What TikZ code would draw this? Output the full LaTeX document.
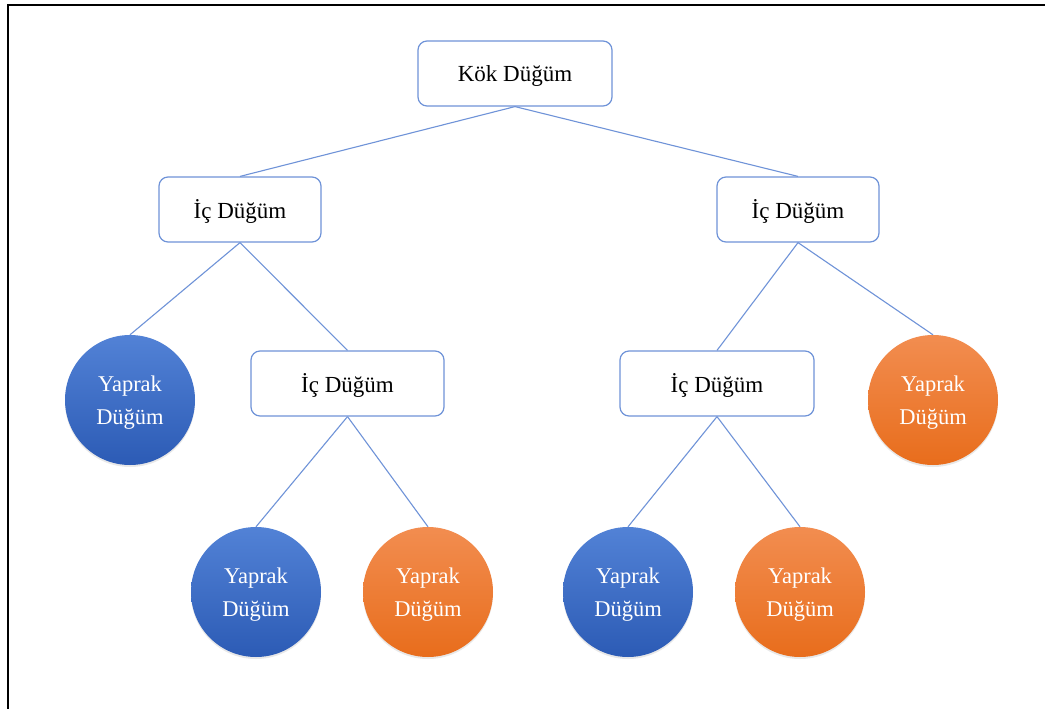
\documentclass[tikz,border=0pt]{standalone}
\usepackage{fontspec}
\setmainfont{Liberation Serif}
\usetikzlibrary{shadows}
\definecolor{edgeblue}{HTML}{6F93D8}
\definecolor{blueTop}{HTML}{5282D6}
\definecolor{blueBot}{HTML}{2C5BB5}
\definecolor{orTop}{HTML}{F28D50}
\definecolor{orBot}{HTML}{E86D1C}
\tikzset{
  inner/.style={draw=edgeblue, line width=1.2pt, rounded corners=9pt, fill=white,
    minimum height=65pt, font=\fontsize{23}{27}\selectfont, inner sep=0pt,
    text depth=2pt},
  leaf/.style={circle, minimum size=130pt, inner sep=0pt, align=center,
    text=white, font=\fontsize{22.5}{33}\selectfont,
    drop shadow={shadow xshift=0pt, shadow yshift=-2pt, opacity=0.18}},
  blueleaf/.style={leaf, top color=blueTop, bottom color=blueBot},
  orleaf/.style={leaf, top color=orTop, bottom color=orBot},
  link/.style={draw=edgeblue, line width=1.1pt},
  lbl/.style={text=white, font=\fontsize{22.5}{33}\selectfont, align=center},
}
\begin{document}
\begin{tikzpicture}[x=1pt,y=-1pt]
\useasboundingbox (0,0) rectangle (1045,709);
\fill[white] (0,0) rectangle (1045,709);
\draw[line width=2pt] (8,709) coordinate (fa) -- (8,5) coordinate (fb) -- (1045,5) coordinate (fc);

\node[inner, minimum width=194pt] (root) at (515,73.5) {\raisebox{-3pt}{Kök Düğüm}};
\node[inner, minimum width=162pt] (il) at (240,209.5) {\raisebox{-2pt}{İç Düğüm}};
\node[inner, minimum width=162pt] (ir) at (798,209.5) {\raisebox{-2pt}{İç Düğüm}};
\node[inner, minimum width=193pt] (iml) at (347.5,383.5) {\raisebox{-2pt}{İç Düğüm}};
\node[inner, minimum width=194pt] (imr) at (717,383.5) {\raisebox{-2pt}{İç Düğüm}};

\node[blueleaf] (l1) at (130,400) {};
\node[orleaf] (l6) at (933,400) {};
\node[blueleaf] (l2) at (256,592) {};
\node[orleaf] (l3) at (428,592) {};
\node[blueleaf] (l4) at (628,592) {};
\node[orleaf] (l5) at (800,592) {};
\foreach \n in {l1,l2,l3,l4,l5,l6}
  \node[lbl] (\n t) at ([yshift=-3pt]\n.center) {Yaprak\\Düğüm};

\draw[link] (root.south) -- (il.north);
\draw[link] (root.south) -- (ir.north);
\draw[link] (il.south) -- (l1.north);
\draw[link] (il.south) -- (iml.north);
\draw[link] (iml.south) -- (l2.north);
\draw[link] (iml.south) -- (l3.north);
\draw[link] (ir.south) -- (imr.north);
\draw[link] (ir.south) -- (l6.north);
\draw[link] (imr.south) -- (l4.north);
\draw[link] (imr.south) -- (l5.north);
\end{tikzpicture}
\end{document}
